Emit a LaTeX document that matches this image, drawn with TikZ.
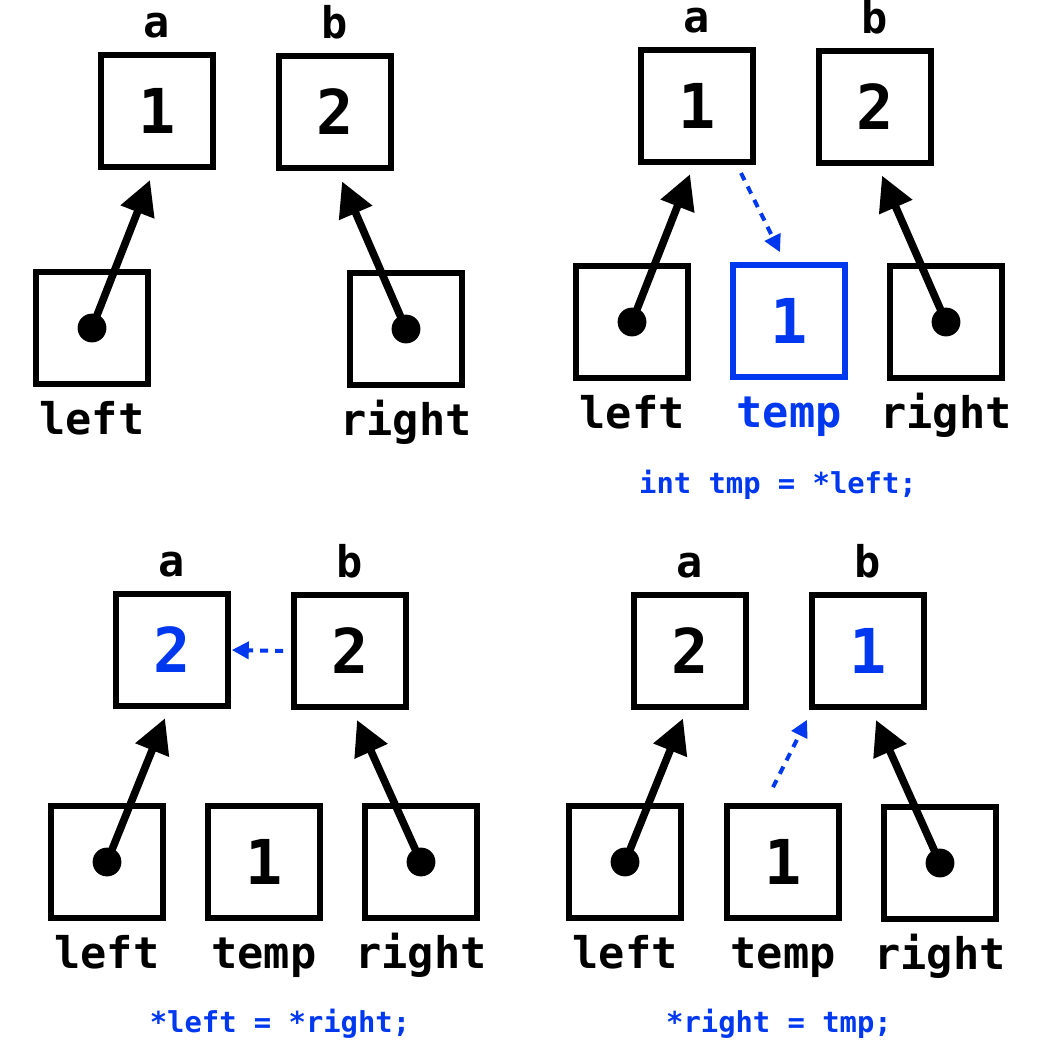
\documentclass[tikz,border=0pt]{standalone}
\usepackage{fontspec}
\setmonofont{DejaVu Sans Mono}
\usetikzlibrary{arrows.meta}
\definecolor{swapblue}{RGB}{0,56,240}
\tikzset{
  cell/.style={draw, line width=1.625mm, minimum size=27.9mm, inner sep=0pt, outer sep=0pt,
    font=\fontsize{44}{44}\selectfont\ttfamily\bfseries},
  lbl/.style={anchor=base, inner sep=0pt, font=\fontsize{31}{31}\selectfont\ttfamily\bfseries},
  code/.style={anchor=base, inner sep=0pt, text=swapblue, font=\fontsize{20.5}{21}\selectfont\ttfamily\bfseries},
  ptr/.style={line width=1.9mm, -{Triangle[length=8.6mm,width=8.6mm]}},
  copyarrow/.style={swapblue, line width=1mm, dash pattern=on 2mm off 1.75mm,
    -{Triangle[length=4.25mm,width=4.25mm]}},
}
\begin{document}
\begin{tikzpicture}[x=0.25mm,y=-0.25mm]
  \useasboundingbox (0,0) rectangle (1044,1064);
  % before the swap
  \node[cell] (a1) at (157,111) {1};
  \node[cell] (b1) at (335,112) {2};
  \node[cell] (l1) at (92,328) {};
  \node[cell] (r1) at (406,329) {};
  \node[lbl] (na1) at ([yshift=4.5mm]a1.north) {a};
  \node[lbl] (nb1) at ([yshift=4.5mm]b1.north) {b};
  \node[lbl] (nl1) at ([yshift=-12.6mm]l1.south) {left};
  \node[lbl] (nr1) at ([yshift=-12.6mm]r1.south) {right};
  \fill (l1.center) circle (3.6mm) (r1.center) circle (3.6mm);
  \draw[ptr] (l1.center) -- ([xshift=-1.75mm,yshift=-3.3mm]a1.south);
  \draw[ptr] (r1.center) -- ([xshift=1.75mm,yshift=-3.4mm]b1.south);
  % int tmp = *left;
  \node[cell] (a2) at (697,106) {1};
  \node[cell] (b2) at (875,107) {2};
  \node[cell] (l2) at (632,322) {};
  \node[cell, draw=swapblue, text=swapblue] (t2) at (789,321) {1};
  \node[cell] (r2) at (946,322) {};
  \node[lbl] (na2) at ([yshift=4.3mm]a2.north) {a};
  \node[lbl] (nb2) at ([yshift=4.3mm]b2.north) {b};
  \node[lbl] (nl2) at ([yshift=-12.6mm]l2.south) {left};
  \node[lbl, text=swapblue] (nt2) at ([yshift=-12.6mm]t2.south) {temp};
  \node[lbl] (nr2) at ([yshift=-12.6mm]r2.south) {right};
  \node[code] (c2) at (778,493) {int tmp = *left;};
  \fill (l2.center) circle (3.6mm) (r2.center) circle (3.6mm);
  \draw[ptr] (l2.center) -- ([xshift=-1.75mm,yshift=-3.1mm]a2.south);
  \draw[ptr] (r2.center) -- ([xshift=1.75mm,yshift=-3.2mm]b2.south);
  \draw[copyarrow] ([xshift=11mm,yshift=-2.8mm]a2.south) -- ([xshift=-2.25mm,yshift=3.25mm]t2.north);
  % *left = *right;
  \node[cell, text=swapblue] (a3) at (172,650) {2};
  \node[cell] (b3) at (350,651) {2};
  \node[cell] (l3) at (107,862) {};
  \node[cell] (t3) at (264,862) {1};
  \node[cell] (r3) at (421,862) {};
  \node[lbl] (na3) at ([yshift=4.5mm]a3.north) {a};
  \node[lbl] (nb3) at ([yshift=4.5mm]b3.north) {b};
  \node[lbl] (nl3) at ([yshift=-12.6mm]l3.south) {left};
  \node[lbl] (nt3) at ([yshift=-12.6mm]t3.south) {temp};
  \node[lbl] (nr3) at ([yshift=-12.6mm]r3.south) {right};
  \node[code] (c3) at (280,1032) {*left = *right;};
  \fill (l3.center) circle (3.6mm) (r3.center) circle (3.6mm);
  \draw[ptr] (l3.center) -- ([xshift=-1.75mm,yshift=-3.1mm]a3.south);
  \draw[ptr] (r3.center) -- ([xshift=1.75mm,yshift=-3.3mm]b3.south);
  \draw[copyarrow] ([xshift=-2.75mm]b3.west) -- ([xshift=1mm]a3.east);
  % *right = tmp;
  \node[cell] (a4) at (690,651) {2};
  \node[cell, text=swapblue] (b4) at (868,651) {1};
  \node[cell] (l4) at (625,862) {};
  \node[cell] (t4) at (783,862) {1};
  \node[cell] (r4) at (940,863) {};
  \node[lbl] (na4) at ([yshift=4.5mm]a4.north) {a};
  \node[lbl] (nb4) at ([yshift=4.5mm]b4.north) {b};
  \node[lbl] (nl4) at ([yshift=-12.6mm]l4.south) {left};
  \node[lbl] (nt4) at ([yshift=-12.6mm]t4.south) {temp};
  \node[lbl] (nr4) at ([yshift=-12.6mm]r4.south) {right};
  \node[code] (c4) at (779,1032) {*right = tmp;};
  \fill (l4.center) circle (3.6mm) (r4.center) circle (3.6mm);
  \draw[ptr] (l4.center) -- ([xshift=-1.75mm,yshift=-2.9mm]a4.south);
  \draw[ptr] (r4.center) -- ([xshift=2mm,yshift=-3.3mm]b4.south);
  \draw[copyarrow] ([xshift=-2.5mm,yshift=4.75mm]t4.north) -- ([xshift=-15.25mm,yshift=-3.25mm]b4.south);
\end{tikzpicture}
\end{document}
